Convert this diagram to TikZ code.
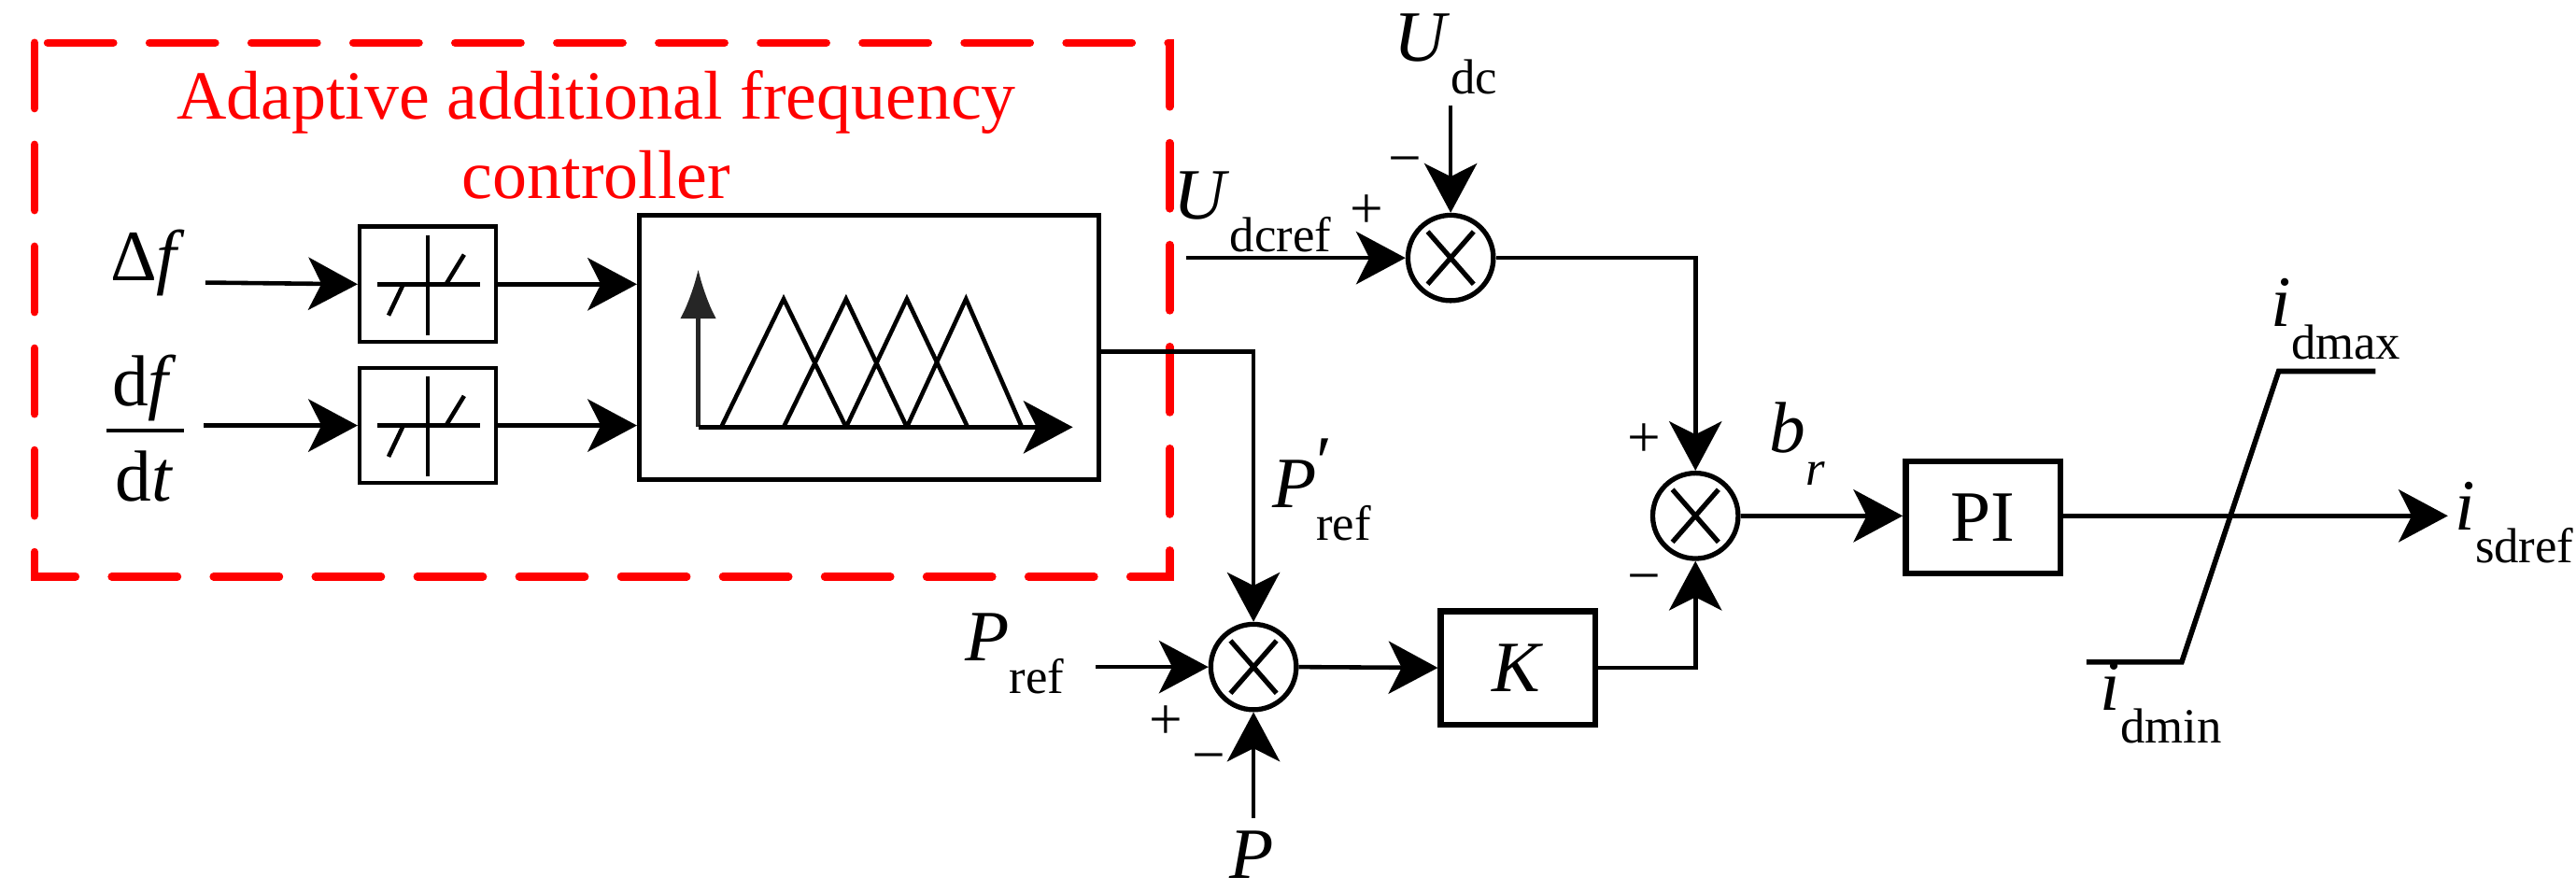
\documentclass[tikz,border=0pt]{standalone}
\usepackage{fontspec}
\setmainfont{Liberation Serif}
\usetikzlibrary{arrows.meta,calc}
\newcommand\lbl[2]{\textit{#1}\raisebox{-0.45em}{\fontsize{15}{15}\selectfont #2}}
\begin{document}
\begin{tikzpicture}[x=0.5pt,y=-0.5pt,
  ln/.style={line width=1.3pt},
  arr/.style={ln,-{Stealth[length=15pt,width=16pt,inset=4pt]}},
  blk/.style={draw,line width=1.8pt,inner sep=0},
  thin/.style={draw,line width=1.3pt,inner sep=0},
  sum/.style={circle,draw,line width=1.5pt,minimum size=26pt,inner sep=0},
  txt/.style={font=\fontsize{22}{24}\selectfont,inner sep=1pt},
  sgn/.style={font=\fontsize{18}{18}\selectfont,inner sep=0}]
\useasboundingbox (0,0) rectangle (1568,542);
% red dashed box
\draw[red,line width=2.4pt,dash pattern=on 20pt off 11pt,line cap=round] (21,26) rectangle (712,351);
\node[txt,red,align=center,font=\fontsize{21}{21}\selectfont] (title) at (363,82) {Adaptive additional frequency\\[3pt]controller};
% inputs
\node[txt] (df) at (90,160) {Δ\textit{f}};
\node[txt] (dfn) at (88,236) {d\textit{f}};
\node[txt] (dtn) at (88,290) {d\textit{t}};
\draw[ln] (65,262) -- (112,262);
\coordinate (a1) at (125,172);
\coordinate (a2) at (124,259);
% deadband boxes
\node[thin,minimum width=41.5pt,minimum height=35pt] (db1) at (260.5,173) {};
\node[thin,minimum width=41.5pt,minimum height=35pt] (db2) at (260.5,259) {};
\foreach \b in {db1,db2}{
  \draw[ln] ($(\b)+(-31,0)$) -- ($(\b)+(32,0)$);
  \draw[ln] ($(\b)+(0,-30)$) -- ($(\b)+(0,31)$);
  \draw[ln] ($(\b)+(-24,19)$) -- ($(\b)+(-15,0)$);
  \draw[ln] ($(\b)+(11,0)$) -- ($(\b)+(22,-18)$);
}
\draw[arr] (a1) -- (db1.west);
\draw[arr] (a2) -- (db2.west);
% fuzzy box
\node[thin,minimum width=140pt,minimum height=80.5pt] (fz) at (529,211.5) {};
\draw[arr] (db1.east) -- (fz.west |- db1.east);
\draw[arr] (db2.east) -- (fz.west |- db2.east);
\coordinate (o) at (425,260);
\draw[ln,-{Latex[length=15pt,width=11pt]},draw=black!85,fill=black!85] (o) -- (425,164);
\draw[arr] (o) -- (653,260);
\draw[ln] (439,260) -- (477,182) -- (515,260)
          (477,260) -- (515,182) -- (552,260)
          (515,260) -- (552,182) -- (589,260)
          (552,260) -- (588,182) -- (622,260);
% summing junctions
\node[sum] (s1) at (763,406) {};
\node[sum] (s2) at (1032,314) {};
\node[sum] (s3) at (883,157) {};
\foreach \s in {s1,s2,s3}{
  \draw[line width=1.5pt] ($(\s)+(-14,-16)$) -- ($(\s)+(14,16)$);
  \draw[line width=1.5pt] ($(\s)+(-14,16)$) -- ($(\s)+(14,-16)$);
}
% fuzzy output to s1
\draw[arr] (fz.east |- 0,214) -| (s1.north);
\node[txt,anchor=west] (ppr) at (772,298) {\textit{P}\rlap{\raisebox{0.3em}{′}}\raisebox{-0.45em}{\fontsize{15}{15}\selectfont ref}};
% Pref and P
\node[txt,anchor=east] (pref) at (650,398) {\lbl{P}{ref}};
\coordinate (pin) at (667,406);
\draw[arr] (pin) -- (s1.west);
\node[sgn] (p1) at (710,440) {+};
\node[sgn] (m1) at (736,465) {−};
\node[txt] (P) at (762,520) {\textit{P}};
\coordinate (pb) at (763,498);
\draw[arr] (pb) -- (s1.south);
% K block
\node[blk,minimum width=47pt,minimum height=34.5pt,txt] (K) at (924,406.5) {\textit{K}};
\draw[arr] (s1.east) -- (K.west);
\draw[arr] (K.east) -| (s2.south);
% top sum
\node[txt,anchor=west] (udcref) at (712,129) {\lbl{U}{dcref}};
\coordinate (uin) at (722,157);
\draw[arr] (uin) -- (s3.west);
\node[sgn] (p3) at (832,129) {+};
\node[txt] (udc) at (880,33) {\lbl{U}{dc}};
\coordinate (utop) at (883,64);
\draw[arr] (utop) -- (s3.north);
\node[sgn] (m3) at (855,102) {−};
\draw[arr] (s3.east) -| (s2.north);
\node[sgn] (p2) at (1001,268) {+};
\node[sgn] (m2) at (1001,356) {−};
% PI
\node[txt] (br) at (1094,270) {\textit{b}\raisebox{-0.45em}{\fontsize{15}{15}\selectfont\textit{r}}};
\node[blk,minimum width=47pt,minimum height=34pt,txt] (PI) at (1207,315) {PI};
\draw[arr] (s2.east) -- (PI.west |- s2.east);
\coordinate (out) at (1490,314);
\draw[arr] (PI.east |- s2.east) -- (out);
\node[txt,anchor=west] (isd) at (1492,318) {\lbl{i}{sdref}};
% saturation
\coordinate (sa) at (1270,403);
\coordinate (sb) at (1328,403);
\coordinate (sc) at (1387,226);
\coordinate (sd) at (1446,226);
\draw[line width=1.6pt] (sa) -- (sb) -- (sc) -- (sd);
\node[txt,anchor=west] (imax) at (1380,194) {\lbl{i}{dmax}};
\node[txt,anchor=west] (imin) at (1276,428) {\lbl{i}{dmin}};
\end{tikzpicture}
\end{document}
